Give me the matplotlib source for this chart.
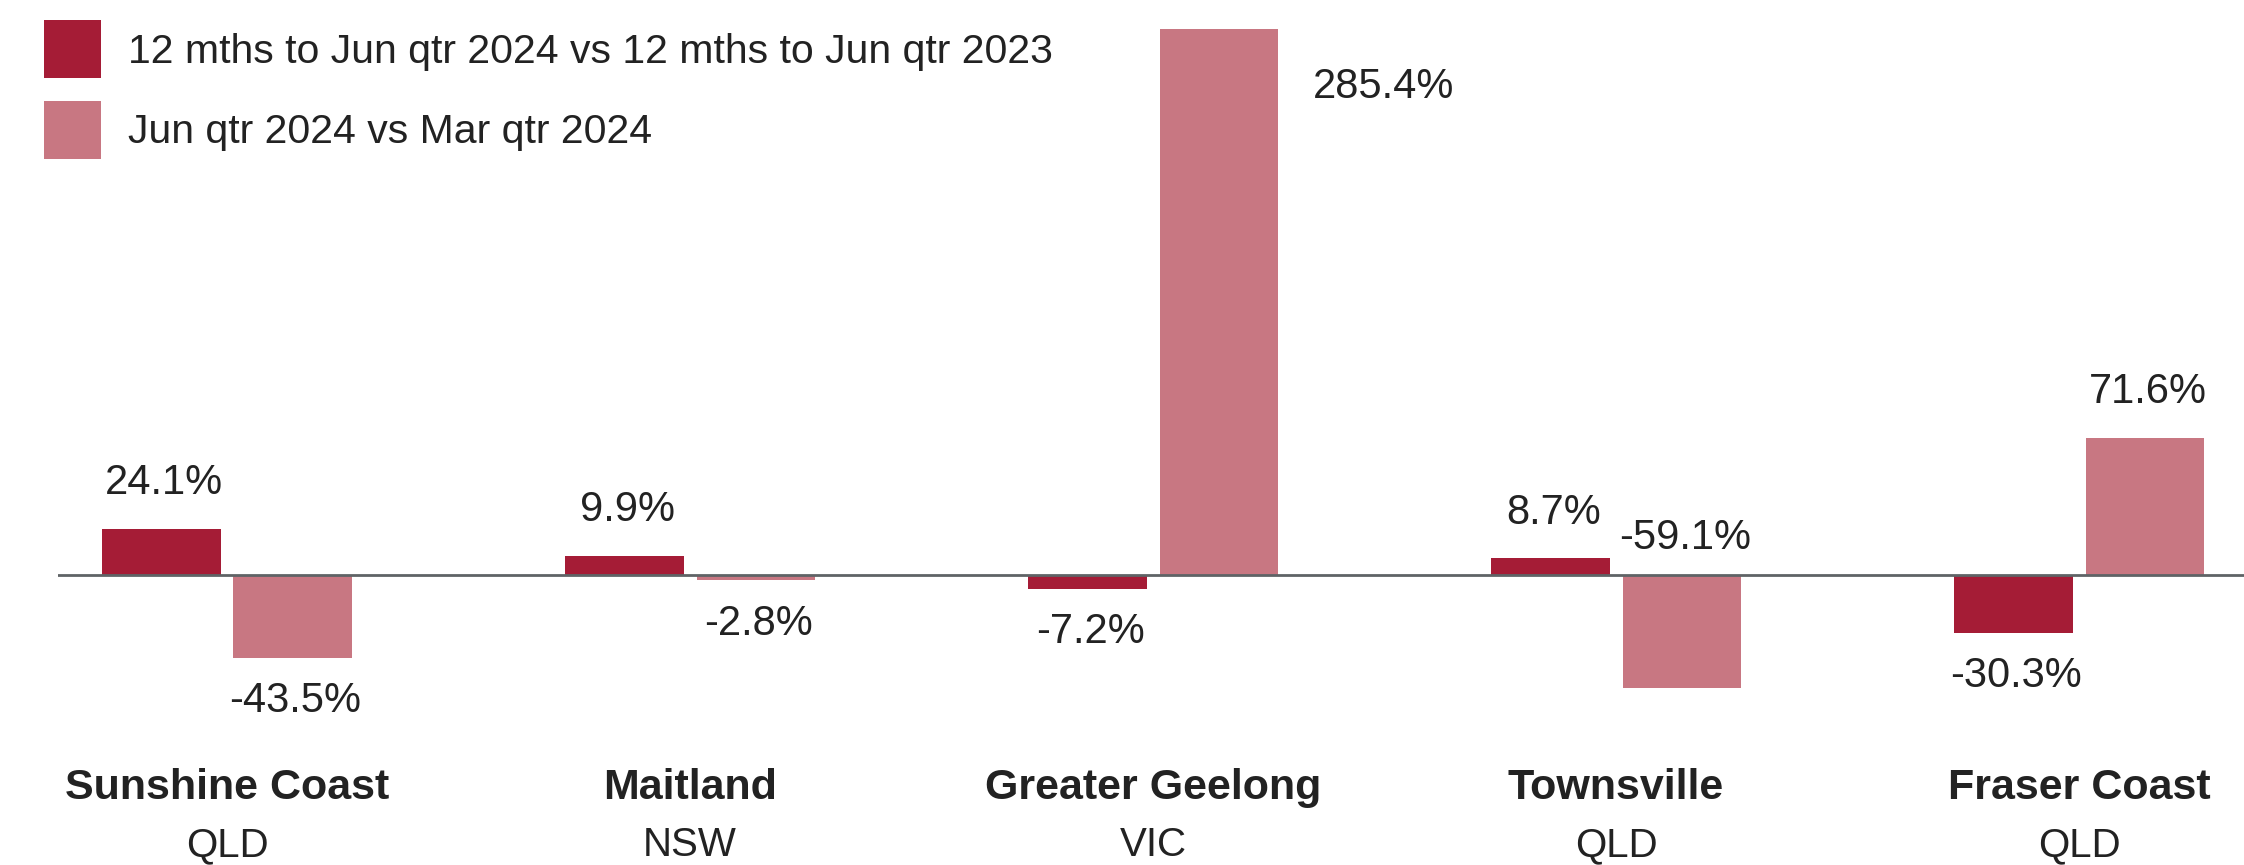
import matplotlib.pyplot as plt
import numpy as np

# regions and states
regions = ['Sunshine Coast', 'Maitland', 'Greater Geelong', 'Townsville', 'Fraser Coast']
states = ['QLD', 'NSW', 'VIC', 'QLD', 'QLD']

# % change
annual_change = [24.1, 9.9, -7.2, 8.7, -30.3]
quarter_change = [-43.5, -2.8, 285.4, -59.1, 71.6]

series_names = ['12 mths to Jun qtr 2024 vs 12 mths to Jun qtr 2023',
                'Jun qtr 2024 vs Mar qtr 2024']

dark_red = '#A51C36'
light_red = '#C87782'
text_col = '#222222'

plt.rcParams['font.family'] = ['Liberation Sans', 'DejaVu Sans']

fig = plt.figure(figsize=(22.44, 8.65), dpi=100)
ax = fig.add_axes([58 / 2244, 0, 1 - 58 / 2244, 1])

x = np.arange(len(regions))
w = 0.256
off = 0.142

b1 = ax.bar(x - off, annual_change, w, color=dark_red, label=series_names[0], zorder=2)
b2 = ax.bar(x + off, quarter_change, w, color=light_red, label=series_names[1], zorder=2)

ax.axhline(0, color='#5f6366', lw=2, zorder=3)
ax.set_xlim(-0.365, 4.356)
ax.set_ylim(-151.4, 300.4)
ax.axis('off')

fs_val = 30

# value labels
def put_label(xpos, val, special=None):
    txt = f'{val:.1f}%'
    if special == 'right':
        ax.annotate(txt, (xpos + w / 2, val), xytext=(25, -42), textcoords='offset points',
                    ha='left', va='center', fontsize=fs_val, color=text_col)
    elif special == 'above_zero':
        ax.annotate(txt, (xpos, 0), xytext=(2, 27), textcoords='offset points',
                    ha='center', va='center', fontsize=fs_val, color=text_col)
    elif val >= 0:
        ax.annotate(txt, (xpos, val), xytext=(2, 33), textcoords='offset points',
                    ha='center', va='center', fontsize=fs_val, color=text_col)
    else:
        ax.annotate(txt, (xpos, val), xytext=(2, -31), textcoords='offset points',
                    ha='center', va='center', fontsize=fs_val, color=text_col)

for i in range(len(regions)):
    put_label(x[i] - off, annual_change[i])
    sp = None
    if quarter_change[i] > 200:
        sp = 'right'
    elif i == 3:
        sp = 'above_zero'
    put_label(x[i] + off, quarter_change[i], sp)

# category labels
for i in range(len(regions)):
    ax.text(x[i], -111, regions[i], ha='center', va='center', fontsize=31,
            fontweight='bold', color=text_col)
    ax.text(x[i], -141, states[i], ha='center', va='center', fontsize=29, color=text_col)

leg = fig.legend(handles=[b1, b2], loc='upper left', bbox_to_anchor=(0.003, 1.019),
                 frameon=False, fontsize=29.5, handlelength=1.4, handleheight=1.8,
                 handletextpad=0.65, labelspacing=0.55, labelcolor=text_col)

fig.savefig('out.png', dpi=100)
